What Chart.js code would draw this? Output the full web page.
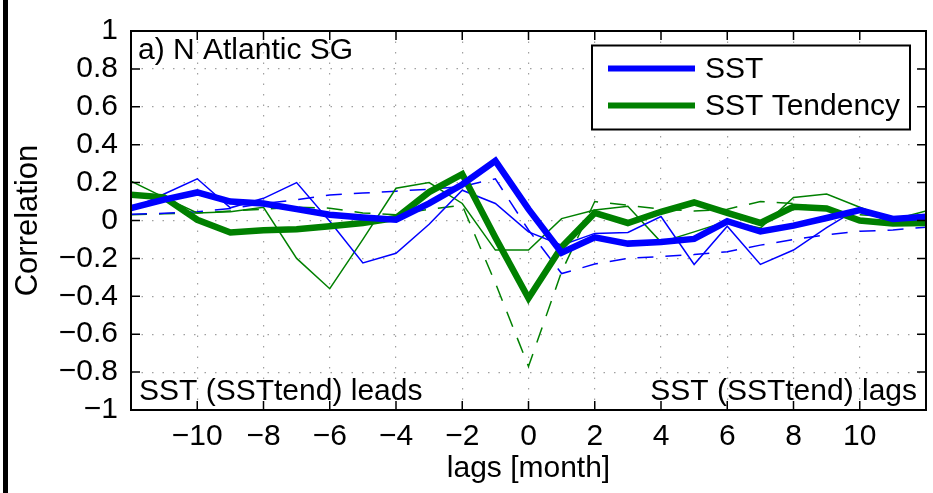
<!DOCTYPE html>
<html>
<head>
<meta charset="utf-8">
<title>N Atlantic SG lag correlation</title>
<script src="https://cdn.jsdelivr.net/npm/chart.js@4.4.1/dist/chart.umd.min.js"></script>
<style>
    body { margin: 0; background: #fff; }
    #wrap { position: relative; width: 933px; height: 493px; }
    #edge { position: absolute; left: 3px; top: 0; width: 5px; height: 493px; background: #000; }
</style>
</head>
<body>
<div id="wrap">
    <canvas id="corr-chart"></canvas>
    <div id="edge"></div>
</div>
<script>
// lags in months, -12 .. 12
const lags = [-12, -11, -10, -9, -8, -7, -6, -5, -4, -3, -2, -1, 0, 1, 2, 3, 4, 5, 6, 7, 8, 9, 10, 11, 12];

// thick lines (legend entries)
const sstCorr = [0.065, 0.11, 0.148, 0.10, 0.09, 0.06, 0.03, 0.016, 0.004, 0.09, 0.19, 0.315, 0.06, -0.17, -0.089, -0.122, -0.114, -0.097, -0.004, -0.058, -0.027, 0.013, 0.055, 0.008, 0.02];
const sstTendCorr = [0.136, 0.122, 0.004, -0.063, -0.052, -0.046, -0.03, -0.013, 0.013, 0.15, 0.245, -0.09, -0.41, -0.14, 0.04, -0.013, 0.046, 0.095, 0.04, -0.013, 0.072, 0.063, 0.0, -0.016, -0.013];

// thin solid lines
const sstThin = [0.06, 0.14, 0.22, 0.067, 0.117, 0.2, -0.004, -0.224, -0.173, -0.02, 0.16, 0.09, -0.06, -0.13, -0.068, -0.063, 0.021, -0.232, -0.03, -0.232, -0.156, -0.038, 0.068, -0.02, -0.002];
const sstTendThin = [0.207, 0.122, 0.04, 0.046, 0.07, -0.2, -0.36, -0.1, 0.17, 0.2, 0.09, -0.156, -0.156, 0.01, 0.055, 0.075, -0.114, -0.06, -0.004, -0.04, 0.122, 0.14, 0.07, 0.004, 0.05];

// dashed lines
const sstDashed = [0.033, 0.038, 0.046, 0.063, 0.089, 0.11, 0.135, 0.145, 0.155, 0.165, 0.18, 0.22, -0.05, -0.28, -0.23, -0.2, -0.19, -0.18, -0.165, -0.13, -0.1, -0.075, -0.057, -0.05, -0.035];
const sstTendDashed = [0.03, 0.035, 0.04, 0.05, 0.06, 0.07, 0.065, 0.04, 0.03, 0.06, 0.08, -0.33, -0.77, -0.27, 0.1, 0.08, 0.06, 0.05, 0.06, 0.1, 0.09, 0.06, 0.03, 0.02, 0.02];

const BLUE = '#0000ff';
const GREEN = '#008000';
const FONT = "'Liberation Sans', Arial, Helvetica, sans-serif";

function fmtMinus(s) {
    return String(s).replace('-', '\u2212');
}

// frame, inward ticks, legend box and the text notes
const framePlugin = {
    id: 'frame',
    afterDatasetsDraw(chart) {
        const { ctx, chartArea: a, scales } = chart;
        ctx.save();

        // inward tick marks on all four sides
        ctx.strokeStyle = '#000';
        ctx.lineWidth = 1.5;
        const tl = 9;
        for (let v = -10; v <= 10; v += 2) {
            const x = scales.x.getPixelForValue(v);
            ctx.beginPath();
            ctx.moveTo(x, a.bottom); ctx.lineTo(x, a.bottom - tl);
            ctx.moveTo(x, a.top); ctx.lineTo(x, a.top + tl);
            ctx.stroke();
        }
        for (let i = -4; i <= 4; i++) {
            const y = scales.y.getPixelForValue(i * 0.2);
            ctx.beginPath();
            ctx.moveTo(a.left, y); ctx.lineTo(a.left + tl, y);
            ctx.moveTo(a.right, y); ctx.lineTo(a.right - tl, y);
            ctx.stroke();
        }

        // plot box
        ctx.lineWidth = 2;
        ctx.strokeRect(a.left, a.top, a.right - a.left, a.bottom - a.top);

        // text notes
        ctx.fillStyle = '#000';
        ctx.textBaseline = 'middle';
        ctx.font = '30px ' + FONT;
        ctx.textAlign = 'left';
        ctx.fillText('a) N Atlantic SG', a.left + 7, a.top + 20);
        ctx.fillText('SST (SSTtend) leads', a.left + 8, a.bottom - 18);
        ctx.textAlign = 'right';
        ctx.fillText('SST (SSTtend) lags', a.right - 9, a.bottom - 18);

        // legend box (top right, inside the plot)
        const bw = 318, bh = 84;
        const bx = a.right - 16 - bw, by = a.top + 14.5;
        ctx.fillStyle = '#fff';
        ctx.fillRect(bx, by, bw, bh);
        ctx.strokeStyle = '#000';
        ctx.lineWidth = 2;
        ctx.strokeRect(bx, by, bw, bh);
        const entries = chart.data.datasets.slice(0, 2);
        entries.forEach((ds, i) => {
            const y = by + 23 + i * 37;
            ctx.strokeStyle = ds.borderColor;
            ctx.lineWidth = 6;
            ctx.beginPath();
            ctx.moveTo(bx + 16, y); ctx.lineTo(bx + 103, y);
            ctx.stroke();
            ctx.fillStyle = '#000';
            ctx.font = '30px ' + FONT;
            ctx.textAlign = 'left';
            ctx.fillText(ds.label, bx + 113, y + 1);
        });
        ctx.restore();
    }
};

function lineSet(label, data, color, width, dash) {
    return {
        label: label,
        data: data,
        borderColor: color,
        backgroundColor: color,
        borderWidth: width,
        borderDash: dash || [],
        pointRadius: 0,
        fill: false,
        tension: 0
    };
}

const datasets = [
    lineSet('SST', sstCorr, BLUE, 6.5),
    lineSet('SST Tendency', sstTendCorr, GREEN, 6.5),
    lineSet('SST thin', sstThin, BLUE, 1.5),
    lineSet('SST Tendency thin', sstTendThin, GREEN, 1.5),
    lineSet('SST dashed', sstDashed, BLUE, 1.5, [16, 12]),
    lineSet('SST Tendency dashed', sstTendDashed, GREEN, 1.5, [16, 12])
];

const ctx = document.getElementById('corr-chart').getContext('2d');
new Chart(ctx, {
    type: 'line',
    data: {
        labels: lags,
        datasets: datasets.map(d => ({ ...d, data: d.data.map((v, i) => ({ x: lags[i], y: v })) }))
    },
    options: {
        responsive: true,
        maintainAspectRatio: false,
        animation: false,
        layout: { padding: { left: 10, top: 15, right: 7, bottom: 0 } },
        plugins: {
            legend: { display: false },
            tooltip: { enabled: false }
        },
        scales: {
            x: {
                type: 'linear',
                min: -12,
                max: 12,
                afterFit: s => { s.height = 83; },
                border: { display: false, dash: [1.5, 9] },
                grid: { color: '#a0a0a0', lineWidth: 1.2, drawTicks: false },
                ticks: {
                    stepSize: 2,
                    autoSkip: false,
                    padding: 9,
                    maxRotation: 0,
                    color: '#000',
                    font: { family: FONT, size: 30 },
                    callback: v => (Math.abs(v) === 12 ? null : fmtMinus(v))
                },
                title: {
                    display: true,
                    text: 'lags [month]',
                    color: '#000',
                    font: { family: FONT, size: 30 },
                    padding: { top: 0, bottom: 6 }
                }
            },
            y: {
                min: -1,
                max: 1,
                afterFit: s => { s.width = 121; },
                border: { display: false, dash: [1.5, 9] },
                grid: { color: '#a0a0a0', lineWidth: 1.2, drawTicks: false },
                ticks: {
                    stepSize: 0.2,
                    autoSkip: false,
                    padding: 13,
                    color: '#000',
                    font: { family: FONT, size: 30 },
                    callback: v => fmtMinus(Math.round(v * 10) / 10)
                },
                title: {
                    display: true,
                    text: 'Correlation',
                    color: '#000',
                    font: { family: FONT, size: 31 },
                    padding: { top: 0, bottom: 0 }
                }
            }
        }
    },
    plugins: [framePlugin]
});
</script>
</body>
</html>
